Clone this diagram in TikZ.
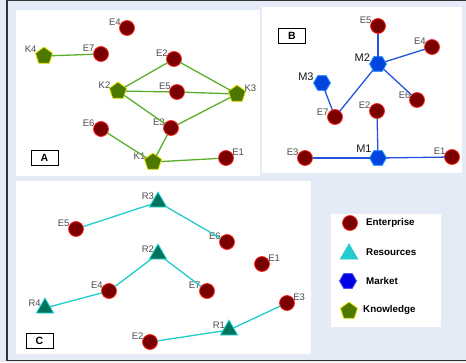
\documentclass[tikz,border=0pt]{standalone}
\usepackage{fontspec}
\setmainfont{Liberation Sans}
\usetikzlibrary{shapes.geometric}
\definecolor{bgblue}{HTML}{E4EBF6}
\definecolor{entfill}{HTML}{7A0000}
\definecolor{entline}{HTML}{FF2A2A}
\definecolor{knwfill}{HTML}{4C7800}
\definecolor{knwline}{HTML}{E6E600}
\definecolor{mktfill}{HTML}{0044DD}
\definecolor{mktline}{HTML}{3399FF}
\definecolor{resfill}{HTML}{00735A}
\definecolor{resline}{HTML}{22DDDD}
\definecolor{kcol}{HTML}{5AAE2C}
\definecolor{mcol}{HTML}{2255DD}
\definecolor{rcol}{HTML}{22CCCC}
\tikzset{
  ent/.style={circle,fill=entfill,draw=entline,line width=0.8pt,minimum size=15pt,inner sep=0pt,outer sep=0pt},
  knw/.style={regular polygon,regular polygon sides=5,fill=knwfill,draw=knwline,line width=0.8pt,minimum size=18pt,inner sep=0pt,outer sep=0pt},
  mkt/.style={regular polygon,regular polygon sides=6,fill=mktfill,draw=mktline,line width=0.8pt,minimum size=17pt,inner sep=0pt,outer sep=0pt},
  res/.style={regular polygon,regular polygon sides=3,fill=resfill,draw=resline,line width=0.8pt,minimum size=20pt,inner sep=0pt,outer sep=0pt},
  lbl/.style={font=\fontsize{9.5}{9.5}\selectfont,text=black!70,inner sep=0.5pt,label distance=-1.5pt},
  mlbl/.style={font=\fontsize{11}{11}\selectfont,text=black!90,inner sep=0.5pt},
  kline/.style={draw=kcol,line width=1.3pt},
  mline/.style={draw=mcol,line width=1.3pt},
  rline/.style={draw=rcol,line width=1.3pt},
  panel/.style={fill=white,draw=none},
  tag/.style={draw=black,line width=0.8pt,fill=white,minimum width=27pt,minimum height=15pt,inner sep=0pt,font=\fontsize{10.5}{10.5}\selectfont\bfseries},
  legtxt/.style={anchor=west,inner sep=0pt,font=\fontsize{9.8}{9.8}\selectfont\bfseries}
}
\begin{document}
\begin{tikzpicture}[x=1pt,y=-1pt]
\useasboundingbox (0,0) rectangle (466,362);
\fill[bgblue] (0,0) rectangle (466,362);
\draw[black!80,line width=1.2pt] (466,0.6) -- (7,0.6) -- (7,360.8) -- (466,360.8);
% white panels
\fill[panel] (16,10) rectangle (260,176);
\fill[panel] (262,7) rectangle (462,173);
\fill[panel] (16,181) rectangle (311,354);
\fill[panel] (331,214) rectangle (441,327);
% panel A: knowledge
\foreach \n/\x/\y/\a in {E4/127/28/160,E7/101/54/165,E2/174/59/160,E5/177/92/160,E6/101/129/165,E3/171/128/160,E1/226/158/20}
  \node[ent,label={[lbl]\a:\n}] (a\n) at (\x,\y) {};
\foreach \n/\x/\y/\a in {K4/44/56/160,K2/118/91/165,K3/237/94/15,K1/153/162/165}
  \node[knw,label={[lbl]\a:\n}] (a\n) at (\x,\y) {};
\foreach \u/\v in {K4/E7,K2/E2,E2/K3,K2/E5,E5/K3,K2/E3,E3/K3,E3/K1,E6/K1,K1/E1}
  \draw[kline] (a\u) -- (a\v);
\node[tag] (tagA) at (44.5,158) {A};
% panel B: market
\foreach \n/\x/\y/\a in {E5/378/26/165,E4/432/47/160,E6/417/100/170,E2/377/111/165,E7/335/117/168,E3/305/158/168,E1/452/157/165}
  \node[ent,label={[lbl]\a:\n}] (b\n) at (\x,\y) {};
\node[mkt,label={[mlbl]165:M2}] (bM2) at (378,64) {};
\node[mkt,label={[mlbl]170:M3}] (bM3) at (322,83) {};
\node[mkt,label={[mlbl]140:M1}] (bM1) at (378,158) {};
\foreach \u/\v in {E5/M2,M2/E4,M2/E6,M2/E7,M3/E7,E2/M1,E3/M1,M1/E1}
  \draw[mline] (b\u) -- (b\v);
\node[tag] (tagB) at (292,35.5) {B};
% panel C: resources
\foreach \n/\x/\y/\a in {E5/76/229/165,E6/227/242/160,E1/262/264/20,E4/109/291/160,E7/207/291/165,E3/287/303/20,E2/150/342/165}
  \node[ent,label={[lbl]\a:\n}] (c\n) at (\x,\y) {};
\foreach \n/\x/\y/\a in {R3/158/202/160,R2/158/254/160,R4/45/308/165,R1/229/330/160}
  \node[res,label={[lbl]\a:\n}] (c\n) at (\x,\y) {};
\foreach \u/\v in {E5/R3,R3/E6,E4/R2,R2/E7,R4/E4,E2/R1,R1/E3}
  \draw[rline] (c\u) -- (c\v);
\node[tag] (tagC) at (39.5,341) {C};
% legend
\node[ent] (kEnt) at (350,223) {};
\node[res,fill=rcol,draw=rcol] (kRes) at (349,254) {};
\node[mkt,fill=blue!90!black,draw=blue!70] (kMkt) at (348,281) {};
\node[knw] (kKnw) at (349,311) {};
\node[legtxt] (tEnt) at (366,223) {Enterprise};
\node[legtxt] (tRes) at (366,252) {Resources};
\node[legtxt] (tMkt) at (366,281) {Market};
\node[legtxt] (tKnw) at (363,310) {Knowledge};
\end{tikzpicture}
\end{document}
